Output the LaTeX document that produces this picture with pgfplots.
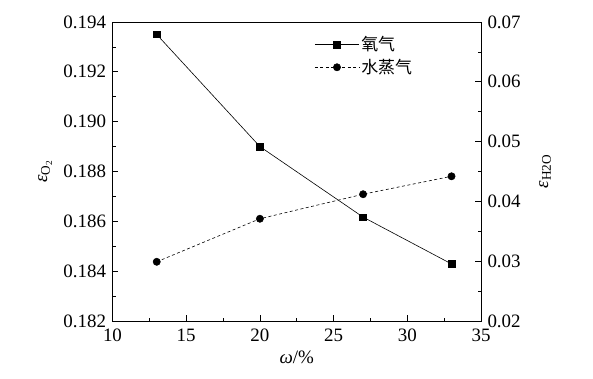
\documentclass[border=0pt]{standalone}
\usepackage{fontspec}
\setmainfont{Liberation Serif}
\newfontfamily\cjk{Noto Sans CJK SC}
\usepackage{pgfplots}
\pgfplotsset{compat=1.18}
\begin{document}
\begin{tikzpicture}[x=1bp,y=1bp]
\path[use as bounding box] (-112.5,-57) rectangle (480.5,321);
\pgfplotsset{every axis/.append style={
  scale only axis, width=368.5bp, height=299bp, at={(0,0)}, anchor=south west,
  xmin=10, xmax=35,
  tick style={black, line width=0.7pt},
  major tick length=6bp, minor tick length=3.5bp, tick align=inside,
  /pgf/number format/assume math mode=true,
  tick label style={font=\fontsize{19}{20}\selectfont, inner sep=0.5bp},
  label style={font=\fontsize{19}{20}\selectfont},
  axis line style={line width=0.9pt},
}}
\begin{axis}[
  xtick={10,15,20,25,30,35}, minor x tick num=1,
  ymin=0.182, ymax=0.194,
  ytick={0.182,0.184,0.186,0.188,0.190,0.192,0.194}, minor y tick num=1,
  xtick pos=bottom, ytick pos=left,
  xticklabel style={yshift=-7.5bp},
  yticklabel style={xshift=-5.8bp, /pgf/number format/.cd, fixed, fixed zerofill, precision=3},
  xlabel={\textit{ω}/\%},
  xlabel style={at={(axis description cs:0.5,-0.12)}, anchor=center},
  ylabel={\textit{ε}\textsubscript{O\textsubscript{2}}},
  ylabel style={at={(axis description cs:-0.183,0.5)}, anchor=center},
  scaled y ticks=false,
]
\addplot[black, line width=0.6pt, mark=square*, mark size=3.3bp] coordinates {
 (13,0.1935) (20,0.1890) (27,0.18617) (33,0.18429)};
\end{axis}
\begin{axis}[
  axis x line=none, axis y line*=right,
  ymin=0.02, ymax=0.07,
  ytick={0.02,0.03,0.04,0.05,0.06,0.07}, minor y tick num=1,
  yticklabel style={xshift=5.8bp, /pgf/number format/.cd, fixed, fixed zerofill, precision=2},
  ylabel={\textit{ε}\textsubscript{H2O}},
  ylabel style={at={(axis description cs:1.174,0.5)}, anchor=center},
  scaled y ticks=false,
  legend style={draw=none, fill=none, at={(0.54,0.965)}, anchor=north west,
    font=\cjk\fontsize{17}{18}\selectfont, row sep=3bp},
  legend cell align=left,
  legend image code/.code={\draw[mark repeat=2,mark phase=2,#1] plot coordinates {(0bp,0bp)(22bp,0bp)(44bp,0bp)};},
]
\addlegendimage{black, line width=0.6pt, mark=square*, mark size=3.3bp}
\addlegendentry{氧气}
\addplot[black, line width=0.6pt, dash pattern=on 3pt off 2.5pt, mark=*, mark size=3.6bp, mark options={solid}] coordinates {
 (13,0.0299) (20,0.0371) (27,0.0412) (33,0.0442)};
\addlegendentry{水蒸气}
\end{axis}
\end{tikzpicture}
\end{document}
